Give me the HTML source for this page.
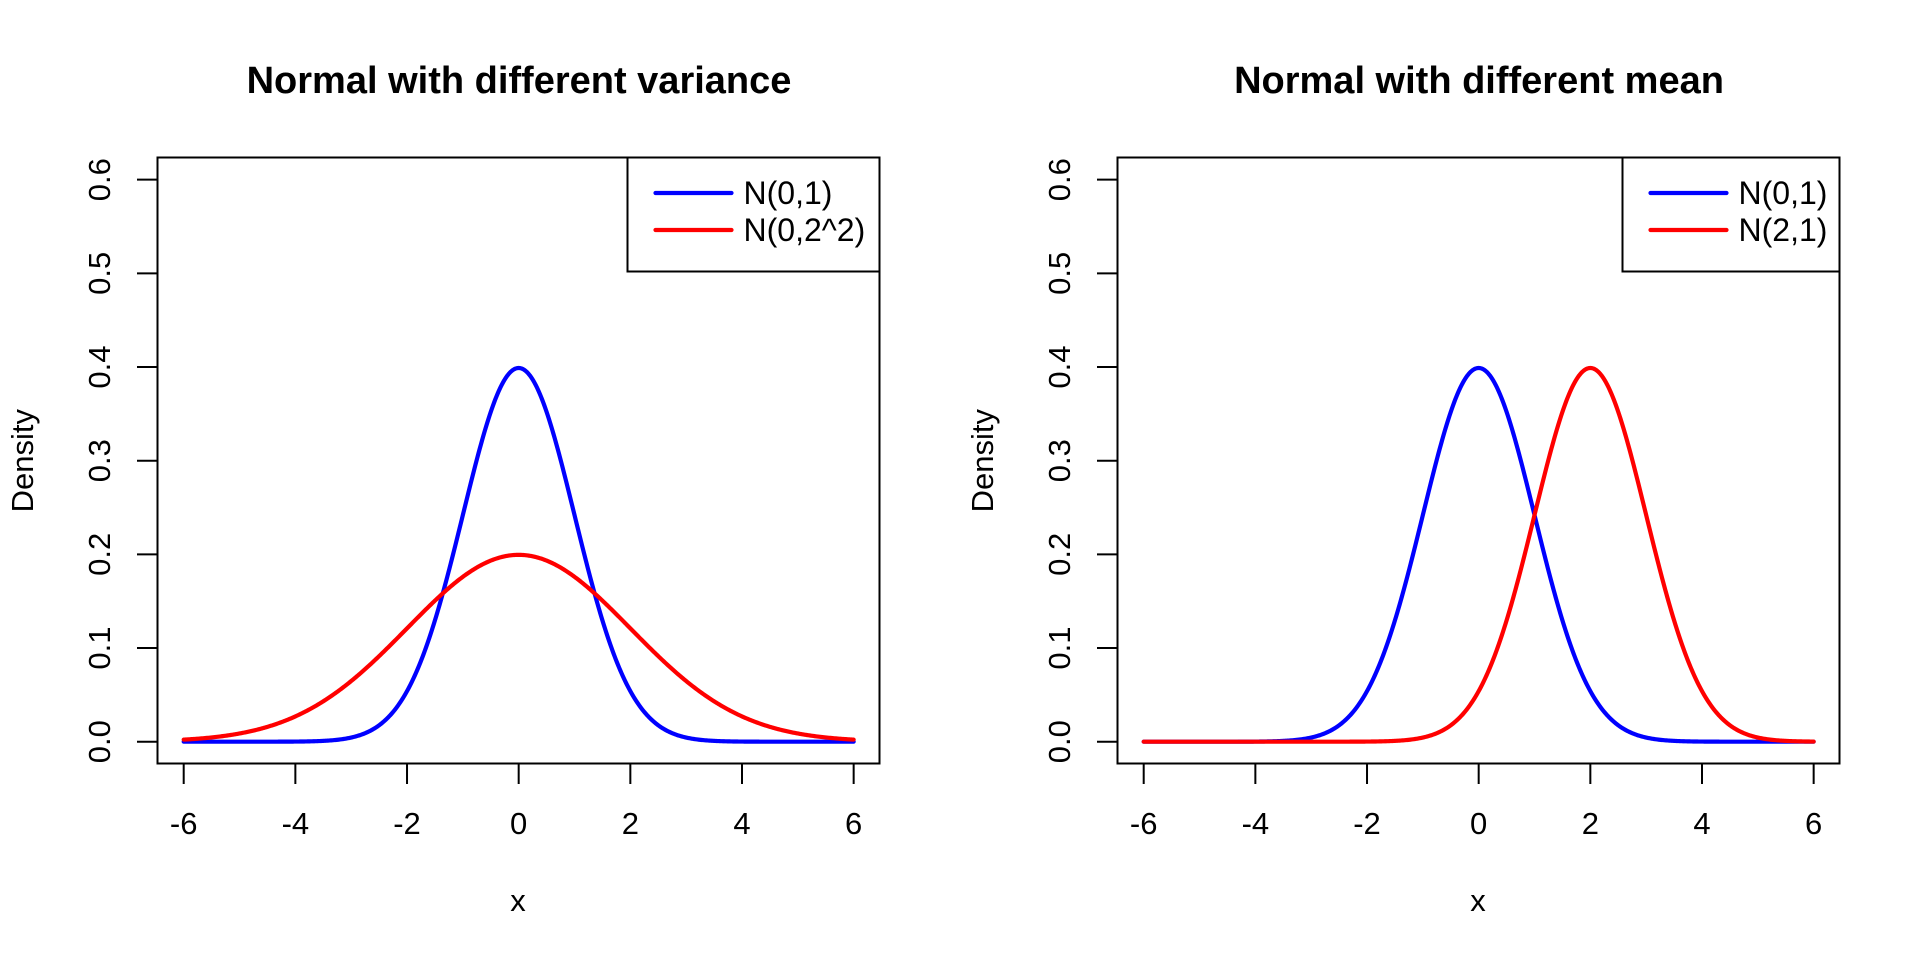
<!DOCTYPE html>
<html><head><meta charset="utf-8"><style>
html,body{margin:0;padding:0;background:#fff;}
svg{display:block;font-family:"Liberation Sans",Arial,sans-serif;}
</style></head><body>
<svg id="s" width="1920" height="960" xmlns="http://www.w3.org/2000/svg">
<rect width="1920" height="960" fill="#fff"/>
<g id="p0"></g>
<g id="p1"></g>
</svg>
<script>
const NS="http://www.w3.org/2000/svg";
function el(p,t,a,txt){const e=document.createElementNS(NS,t);for(const k in a)e.setAttribute(k,a[k]);if(txt!==undefined)e.textContent=txt;p.appendChild(e);return e;}
function dn(x,m,s){return Math.exp(-0.5*((x-m)/s)**2)/(s*Math.sqrt(2*Math.PI));}
const cfg=[
 {off:0,title:"Normal with different variance",series:[["N(0,1)","#0000ff",0,1],["N(0,2^2)","#ff0000",0,2]]},
 {off:960,title:"Normal with different mean",series:[["N(0,1)","#0000ff",0,1],["N(2,1)","#ff0000",2,1]]}
];
cfg.forEach((c,i)=>{
 const g=document.getElementById("p"+i);const o=c.off;
 const X=x=>o+183.7+(x+6)*55.83, Y=y=>741.7-y*936.7;
 el(g,"text",{x:o+519,y:93,"text-anchor":"middle","font-size":"38","font-weight":"bold"},c.title);
 c.series.forEach(s=>{
  let d="";for(let k=0;k<=600;k++){const x=-6+12*k/600;d+=(k?"L":"M")+X(x).toFixed(2)+","+Y(dn(x,s[2],s[3])).toFixed(2);}
  el(g,"path",{d:d,fill:"none",stroke:s[1],"stroke-width":"4.2","stroke-linejoin":"round","stroke-linecap":"round"});
 });
 el(g,"rect",{x:o+157.5,y:157.5,width:722,height:606,fill:"none",stroke:"#000","stroke-width":"2"});
 el(g,"line",{x1:X(-6),x2:X(6),y1:763.5,y2:763.5,stroke:"#000","stroke-width":"2"});
 for(let v=-6;v<=6;v+=2){el(g,"line",{x1:X(v),x2:X(v),y1:763.5,y2:784,stroke:"#000","stroke-width":"2"});
  el(g,"text",{x:X(v),y:834,"text-anchor":"middle","font-size":"31"},String(v));}
 el(g,"line",{x1:o+157.5,x2:o+157.5,y1:Y(0),y2:Y(0.6),stroke:"#000","stroke-width":"2"});
 for(let v=0;v<=6;v++){const yy=Y(v/10);el(g,"line",{x1:o+137,x2:o+157.5,y1:yy,y2:yy,stroke:"#000","stroke-width":"2"});
  el(g,"text",{x:0,y:0,"text-anchor":"middle","font-size":"31",transform:`translate(${o+110},${yy}) rotate(-90)`},(v/10).toFixed(1));}
 el(g,"text",{x:o+518,y:911,"text-anchor":"middle","font-size":"31"},"x");
 el(g,"text",{x:0,y:0,"text-anchor":"middle","font-size":"31",transform:`translate(${o+33},${Y(0.3)}) rotate(-90)`},"Density");
 const left=i==0?627.5:1622.5-960;
 el(g,"rect",{x:o+left,y:157.5,width:879.5-left,height:114,fill:"#fff",stroke:"#000","stroke-width":"2"});
 c.series.forEach((s,j)=>{const yy=j?230:193;
  el(g,"line",{x1:o+left+28,x2:o+left+104,y1:yy,y2:yy,stroke:s[1],"stroke-width":"4.2","stroke-linecap":"round"});
  el(g,"text",{x:o+left+116,y:yy+11,"font-size":"32"},s[0]);});
});
</script>
</body></html>
